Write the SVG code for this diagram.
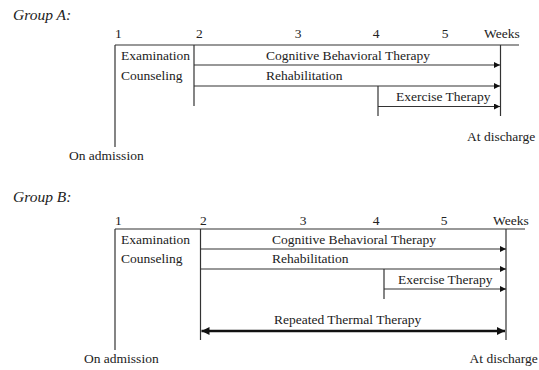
<svg xmlns="http://www.w3.org/2000/svg" width="539" height="370" viewBox="0 0 539 370">
<defs>
<style>
text{font-family:"Liberation Serif","Times New Roman",serif;font-size:13.5px;fill:#222}
.t{font-style:italic;font-size:15.5px}
.m{text-anchor:middle}
.ln{stroke:#333;stroke-width:1.2;fill:none}
.ar{stroke:#333;stroke-width:1.2;fill:none;marker-end:url(#ah)}
.th{stroke:#111;stroke-width:2.6;fill:none;marker-start:url(#bh);marker-end:url(#bh2)}
</style>
<marker id="ah" viewBox="0 0 10 10" refX="10" refY="5" markerWidth="6" markerHeight="6" markerUnits="userSpaceOnUse" orient="auto"><path d="M0,0L10,5L0,10z" fill="#111"/></marker>
<marker id="bh" viewBox="0 0 10 10" refX="0" refY="5" markerWidth="9" markerHeight="8" markerUnits="userSpaceOnUse" orient="auto"><path d="M10,0L0,5L10,10z" fill="#111"/></marker>
<marker id="bh2" viewBox="0 0 10 10" refX="10" refY="5" markerWidth="9" markerHeight="8" markerUnits="userSpaceOnUse" orient="auto"><path d="M0,0L10,5L0,10z" fill="#111"/></marker>
</defs>
<rect width="539" height="370" fill="#fff"/>

<g id="groupA">
<text class="t" x="13" y="20">Group A:</text>
<g id="A-weeks">
<text x="115" y="38">1</text>
<text x="196" y="38">2</text>
<text class="m" x="298" y="38">3</text>
<text class="m" x="376" y="38">4</text>
<text class="m" x="445" y="38">5</text>
<text x="484" y="38">Weeks</text>
</g>
<g id="A-frame">
<line class="ln" x1="115" y1="45" x2="519" y2="45"/>
<line class="ln" x1="115" y1="45" x2="115" y2="147"/>
<line class="ln" x1="194" y1="45" x2="194" y2="106"/>
<line class="ln" x1="378" y1="86" x2="378" y2="116"/>
<line class="ln" x1="500.5" y1="45" x2="500.5" y2="116"/>
</g>
<g id="A-exam"><text x="121" y="60">Examination</text></g>
<g id="A-couns"><text x="121" y="80">Counseling</text></g>
<g id="A-cbt"><text x="266" y="60">Cognitive Behavioral Therapy</text></g>
<g id="A-rehab"><text x="266" y="80">Rehabilitation</text></g>
<g id="A-ex"><text x="396" y="101">Exercise Therapy</text></g>
<g id="A-adm"><text x="69" y="160">On admission</text></g>
<g id="A-dis"><text x="467" y="141">At discharge</text></g>
<g id="A-connectors">
<line class="ar" x1="194" y1="65" x2="500" y2="65"/>
<line class="ar" x1="194" y1="86" x2="500" y2="86"/>
<line class="ar" x1="378" y1="106.5" x2="500" y2="106.5"/>
</g>
</g>

<g id="groupB">
<text class="t" x="13" y="202">Group B:</text>
<g id="B-weeks">
<text x="115" y="225">1</text>
<text x="200" y="225">2</text>
<text class="m" x="303" y="225">3</text>
<text class="m" x="376" y="225">4</text>
<text class="m" x="444" y="225">5</text>
<text x="493" y="225">Weeks</text>
</g>
<g id="B-frame">
<line class="ln" x1="115" y1="229" x2="525" y2="229"/>
<line class="ln" x1="115" y1="229" x2="115" y2="350"/>
<line class="ln" x1="200.5" y1="229" x2="200.5" y2="340"/>
<line class="ln" x1="384" y1="269" x2="384" y2="299"/>
<line class="ln" x1="506" y1="229" x2="506" y2="340"/>
</g>
<g id="B-exam"><text x="121" y="244">Examination</text></g>
<g id="B-couns"><text x="121" y="263">Counseling</text></g>
<g id="B-cbt"><text x="272" y="244">Cognitive Behavioral Therapy</text></g>
<g id="B-rehab"><text x="272" y="263">Rehabilitation</text></g>
<g id="B-ex"><text x="398" y="284">Exercise Therapy</text></g>
<g id="B-rtt"><text x="274" y="324">Repeated Thermal Therapy</text></g>
<g id="B-adm"><text x="84" y="363">On admission</text></g>
<g id="B-dis"><text x="469.5" y="363">At discharge</text></g>
<g id="B-connectors">
<line class="ar" x1="200.5" y1="249" x2="506" y2="249"/>
<line class="ar" x1="200.5" y1="269" x2="506" y2="269"/>
<line class="ar" x1="384" y1="289" x2="506" y2="289"/>
<line class="th" x1="201.5" y1="331" x2="505" y2="331"/>
</g>
</g>
</svg>
